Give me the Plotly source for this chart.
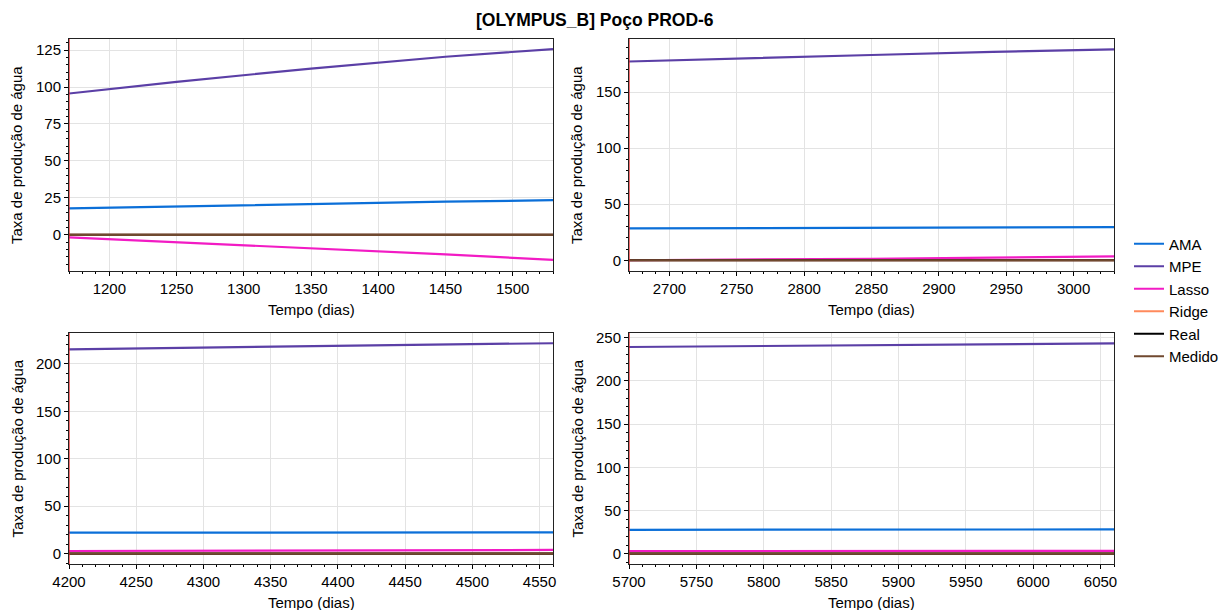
import plotly.graph_objects as go

# ---------------- data ----------------
series_names = ["AMA", "MPE", "Lasso", "Ridge", "Real", "Medido"]
series_colors = ["#0b6fd8", "#5b3fa6", "#f21bc4", "#ff8a5c", "#000000", "#70492f"]

t_p1 = [1170, 1250, 1350, 1450, 1530]
ama_p1 = [17.9, 19.3, 21.0, 22.4, 23.4]
mpe_p1 = [95.6, 103.5, 112.5, 120.5, 125.7]
lasso_p1 = [-1.8, -5.0, -9.0, -13.2, -17.0]
ridge_p1 = [0.0, 0.0, 0.0, 0.0, 0.0]
real_p1 = [0.0, 0.0, 0.0, 0.0, 0.0]
medido_p1 = [0.0, 0.0, 0.0, 0.0, 0.0]

t_p2 = [2670, 2760, 2850, 2940, 3030]
ama_p2 = [28.4, 28.7, 29.0, 29.3, 29.6]
mpe_p2 = [177.4, 180.5, 183.2, 186.0, 188.3]
lasso_p2 = [0.0, 0.5, 1.3, 2.3, 3.5]
ridge_p2 = [0.0, 0.0, 0.0, 0.0, 0.0]
real_p2 = [0.0, 0.0, 0.0, 0.0, 0.0]
medido_p2 = [0.0, 0.0, 0.0, 0.0, 0.0]

t_p3 = [4200, 4290, 4380, 4470, 4560]
ama_p3 = [22.1, 22.2, 22.3, 22.4, 22.5]
mpe_p3 = [215.4, 217.2, 218.8, 220.4, 221.8]
lasso_p3 = [2.8, 3.1, 3.4, 3.7, 3.9]
ridge_p3 = [0.0, 0.0, 0.0, 0.0, 0.0]
real_p3 = [0.0, 0.0, 0.0, 0.0, 0.0]
medido_p3 = [0.0, 0.0, 0.0, 0.0, 0.0]

t_p4 = [5700, 5790, 5880, 5970, 6060]
ama_p4 = [27.7, 27.8, 27.9, 28.0, 28.1]
mpe_p4 = [239.2, 240.3, 241.4, 242.4, 243.4]
lasso_p4 = [3.1, 3.15, 3.2, 3.25, 3.3]
ridge_p4 = [0.0, 0.0, 0.0, 0.0, 0.0]
real_p4 = [0.0, 0.0, 0.0, 0.0, 0.0]
medido_p4 = [0.0, 0.0, 0.0, 0.0, 0.0]

panels = [
    (t_p1, [ama_p1, mpe_p1, lasso_p1, ridge_p1, real_p1, medido_p1]),
    (t_p2, [ama_p2, mpe_p2, lasso_p2, ridge_p2, real_p2, medido_p2]),
    (t_p3, [ama_p3, mpe_p3, lasso_p3, ridge_p3, real_p3, medido_p3]),
    (t_p4, [ama_p4, mpe_p4, lasso_p4, ridge_p4, real_p4, medido_p4]),
]

x_ranges = [[1170, 1530], [2670, 3030], [4200, 4560], [5700, 6060]]
y_ranges = [[-24.5, 132.5], [-9.6, 197.5], [-10.9, 232.6], [-11.9, 255.4]]
y_dticks = [25, 50, 50, 50]
y_minor = [5, 10, 10, 10]

title_text = "[OLYMPUS_B] Poço PROD-6"
xlabel = "Tempo (dias)"
ylabel = "Taxa de produção de água"

# ---------------- layout geometry (pixels) ----------------
W, H = 1222, 610
col_px = [(69, 553), (629, 1114)]
row_px = [(39, 271), (333, 564)]

FONT = "Liberation Sans, Arial, Helvetica, sans-serif"
FS = 15

fig = go.Figure()
layout = dict(
    template="none",
    width=W, height=H,
    margin=dict(l=0, r=0, t=0, b=0, autoexpand=False),
    paper_bgcolor="white", plot_bgcolor="white",
    font=dict(family=FONT, size=FS, color="black"),
    showlegend=True,
    legend=dict(
        x=1129 / W, y=1 - 300 / H, xanchor="left", yanchor="middle",
        font=dict(size=FS), bgcolor="rgba(0,0,0,0)",
        tracegroupgap=0, itemwidth=30,
    ),
)
annotations = []
shapes = []

for i, (t, vals) in enumerate(panels):
    r, c = divmod(i, 2)
    xa = "xaxis" if i == 0 else f"xaxis{i+1}"
    ya = "yaxis" if i == 0 else f"yaxis{i+1}"
    xref = "x" if i == 0 else f"x{i+1}"
    yref = "y" if i == 0 else f"y{i+1}"
    x0, x1 = col_px[c]
    y0, y1 = row_px[r]
    layout[xa] = dict(
        domain=[x0 / W, x1 / W], anchor=yref, range=x_ranges[i], automargin=False,
        dtick=50, tick0=0, ticks="outside", ticklen=4, tickwidth=1, tickcolor="black",
        showline=True, linecolor="#222222", linewidth=1, mirror=True,
        showgrid=True, gridcolor="#e3e3e3", gridwidth=1, zeroline=False,
        minor=dict(dtick=10, tick0=0, ticks="outside", ticklen=2, tickcolor="black", showgrid=False),
        tickfont=dict(size=FS),
    )
    layout[ya] = dict(
        domain=[1 - y1 / H, 1 - y0 / H], anchor=xref, range=y_ranges[i], automargin=False,
        dtick=y_dticks[i], tick0=0, ticks="outside", ticklen=4, tickwidth=1, tickcolor="black",
        showline=True, linecolor="#222222", linewidth=1, mirror=True,
        showgrid=True, gridcolor="#e3e3e3", gridwidth=1, zeroline=False,
        minor=dict(dtick=y_minor[i], tick0=0, ticks="outside", ticklen=2, tickcolor="black", showgrid=False),
        tickfont=dict(size=FS),
    )
    for k, (name, color) in enumerate(zip(series_names, series_colors)):
        fig.add_trace(go.Scatter(
            x=t, y=vals[k], mode="lines", name=name,
            line=dict(color=color, width=2.2),
            legendgroup=name, showlegend=(i == 0),
            xaxis=xref, yaxis=yref,
        ))
    # forecast-start marker
    shapes.append(dict(type="line", xref=xref, yref=f"{yref} domain",
                       x0=x_ranges[i][0], x1=x_ranges[i][0], y0=0, y1=1,
                       line=dict(color="rgba(235,30,30,0.85)", width=1.5)))
    # axis titles
    annotations.append(dict(text=xlabel, x=(x0 + x1) / 2 / W, y=1 - (y1 + 38) / H,
                            xref="paper", yref="paper", showarrow=False,
                            xanchor="center", yanchor="middle", font=dict(size=FS)))
    annotations.append(dict(text=ylabel, x=(x0 - 52) / W, y=1 - (y0 + y1) / 2 / H,
                            xref="paper", yref="paper", showarrow=False, textangle=-90,
                            xanchor="center", yanchor="middle", font=dict(size=FS)))

annotations.append(dict(text="<b>" + title_text + "</b>", x=595 / W, y=1 - 20 / H,
                        xref="paper", yref="paper", showarrow=False,
                        xanchor="center", yanchor="middle", font=dict(size=17.5)))
layout["annotations"] = annotations
layout["shapes"] = shapes
fig.update_layout(**layout)
fig.write_html("out.html")
